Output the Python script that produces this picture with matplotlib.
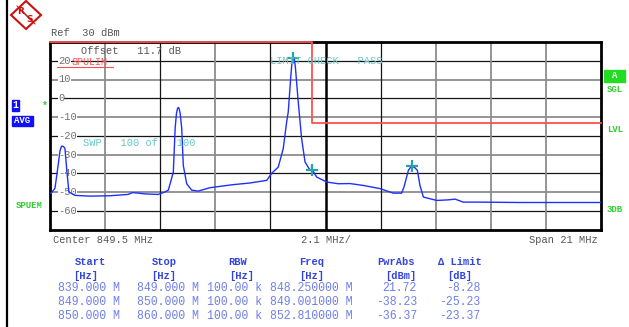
import matplotlib
matplotlib.use("Agg")
import matplotlib.pyplot as plt
from matplotlib.patches import Polygon, Rectangle
from matplotlib.lines import Line2D

W, H = 629, 327

# ---- data ----
freq_mhz = [839.00, 839.04, 839.19, 839.32, 839.38, 839.44, 839.50, 839.57, 839.64, 839.72, 839.95,
            840.52, 841.29, 841.97, 842.16, 842.62, 843.12, 843.38, 843.51, 843.61, 843.70,
            843.77, 843.82, 843.86, 843.89, 843.92, 843.96, 844.02, 844.08, 844.21, 844.40, 844.65, 845.10,
            845.97, 846.62, 847.26, 847.45, 847.70, 847.89, 848.02, 848.08, 848.18, 848.22, 848.27,
            848.31, 848.35, 848.46, 848.59, 848.72, 848.91, 849.00, 849.16, 849.55, 849.99, 850.43,
            850.94, 851.58, 852.08, 852.40, 852.49, 852.66, 852.76, 852.82, 852.90, 853.00, 853.10, 853.23,
            853.74, 854.17, 854.44, 854.75, 855.39, 856.91, 858.44, 860.00]
level_dbm = [-50.7, -50.7, -48.0, -34.7, -28.0, -25.6, -25.6, -26.7, -38.4, -50.0, -51.8,
             -52.2, -52.0, -51.3, -50.3, -51.0, -51.3, -50.0, -49.0, -44.0, -39.3,
             -16.0, -8.0, -5.5, -4.9, -5.5, -8.0, -16.0, -35.8, -45.6, -49.0, -49.5, -47.7,
             -46.1, -45.2, -43.8, -40.0, -36.7, -26.8, -12.6, -7.3, 12.0, 19.0, 21.5,
             21.0, 17.0, -1.8, -21.5, -34.0, -38.4, -38.2, -42.0, -44.7, -45.6, -45.5,
             -46.5, -48.2, -50.6, -50.6, -47.4, -38.4, -36.5, -36.4, -37.0, -38.4, -46.5, -52.7,
             -54.5, -54.2, -53.8, -55.4, -55.4, -55.6, -55.6, -55.6]

marker_freq = [848.25, 849.001, 852.81]
marker_level = [21.72, -38.23, -36.37]

limit_freq = [839, 849, 849, 860]
limit_level = [30, 30, -13, -13]

ytick_values = [20, 10, 0, -10, -20, -30, -40, -50, -60]

start_col = ["839.000 M", "849.000 M", "850.000 M"]
stop_col = ["849.000 M", "850.000 M", "860.000 M"]
rbw_col = ["100.00 k", "100.00 k", "100.00 k"]
freq_col = ["848.250000 M", "849.001000 M", "852.810000 M"]
pwr_col = ["21.72", "-38.23", "-36.37"]
dlim_col = ["-8.28", "-25.23", "-23.37"]

# ---- figure ----
fig = plt.figure(figsize=(W / 100, H / 100), dpi=100)
fig.patch.set_facecolor("white")
MONO = "Liberation Mono"


def T(x, y, s, **kw):
    kw.setdefault("family", MONO)
    kw.setdefault("fontsize", 7.5)
    return fig.text(x / W, 1 - y / H, s, **kw)


ax = fig.add_axes([50 / W, 1 - 229.5 / H, 551 / W, 187.5 / H])
ax.set_xlim(839, 860)
ax.set_ylim(-70, 30)
ax.set_xticks([])
ax.set_yticks([])
for sp in ax.spines.values():
    sp.set_linewidth(2.0)
    sp.set_color("black")

# grid lines
hstyle = {20: "k", 10: "g", 0: "k", -10: "g", -20: "k", -30: "g", -40: "k", -50: "g", -60: "k"}
for v in ytick_values:
    if hstyle[v] == "k":
        ax.axhline(v, color="#151515", lw=0.9, zorder=1)
    else:
        ax.axhline(v, color="#8c8c8c", lw=1.3, zorder=1)
vstyle = ["g", "k", "g", "k", "K", "k", "g", "g", "g"]
for i, s in enumerate(vstyle):
    xv = 839 + 2.1 * (i + 1)
    if s == "g":
        ax.axvline(xv, color="#8c8c8c", lw=1.3, zorder=1)
    elif s == "K":
        ax.axvline(xv, color="#000000", lw=1.8, zorder=1)
    else:
        ax.axvline(xv, color="#151515", lw=0.9, zorder=1)

# y labels inside plot
ytr = ax.get_yaxis_transform()
for v in ytick_values:
    ax.text(0.0145, v, f"{v}", transform=ytr, ha="left", va="center",
            family=MONO, fontsize=7.5, color="#707070", zorder=3,
            bbox=dict(facecolor="white", edgecolor="none", pad=0.1))

# limit line
ax.plot(limit_freq, limit_level, color="#ff5050", lw=1.3, zorder=4, clip_on=False)

# trace
ax.plot(freq_mhz, level_dbm, color="#1f2fff", lw=1.0, zorder=5)

# markers
ax.plot(marker_freq, marker_level, linestyle="none", marker="+", ms=9, mew=1.6,
        color="#2aa0a8", zorder=6)

# in-plot texts
T(81, 51, "Offset   11.7 dB", color="#555555", va="center")
T(72, 62, "SPULIM", color="#ff5050", va="center", fontsize=7.2)
fig.add_artist(Line2D([57 / W, 113 / W], [1 - 67 / H, 1 - 67 / H], color="#ff5050", lw=0.8))
T(270, 61, "LIMIT CHECK   PASS", color="#66c8c8", va="center")
T(83, 143, "SWP   100 of   100", color="#66c8c8", va="center")

# top texts
T(51, 33, "Ref  30 dBm", color="#555555", va="center")

# bottom axis texts
T(53, 240, "Center 849.5 MHz", color="#555555", va="center")
T(301, 240, "2.1 MHz/", color="#555555", va="center")
T(598, 240, "Span 21 MHz", color="#555555", va="center", ha="right")

# left side panel
fig.add_artist(Line2D([7 / W, 7 / W], [0, 1], color="black", lw=1.6))
fig.add_artist(Rectangle((12 / W, 1 - 111 / H), 7 / W, 11 / H, color="#1010ff"))
T(15.5, 105.5, "1", color="white", ha="center", va="center", fontsize=7, weight="bold")
fig.add_artist(Rectangle((12 / W, 1 - 126 / H), 21 / W, 10 / H, color="#1010ff"))
T(22.5, 121, "AVG", color="white", ha="center", va="center", fontsize=6.5, weight="bold")
T(44.5, 106, "*", color="#33cc33", ha="center", va="center", fontsize=7, weight="bold")
T(29, 206, "SPUEM", color="#33cc33", ha="center", va="center", fontsize=6.5, weight="bold")

# right side panel
fig.add_artist(Rectangle((604 / W, 1 - 82 / H), 21 / W, 12 / H, color="#22dd22"))
T(614.5, 76, "A", color="white", ha="center", va="center", fontsize=6.5, weight="bold")
T(615, 90, "SGL", color="#33cc33", ha="center", va="center", fontsize=6.5, weight="bold")
T(615, 129, "LVL", color="#33cc33", ha="center", va="center", fontsize=6.5, weight="bold")
T(615, 209, "3DB", color="#33cc33", ha="center", va="center", fontsize=6.5, weight="bold")

# R&S logo
cx, cy = 26, 15
pts = [((cx) / W, 1 - (cy - 14) / H), ((cx + 15) / W, 1 - cy / H),
       ((cx) / W, 1 - (cy + 14) / H), ((cx - 15) / W, 1 - cy / H)]
fig.add_artist(Polygon(pts, closed=True, facecolor="white", edgecolor="#cc1111", lw=1.5))
for d in (-2, 0, 2):
    fig.add_artist(Line2D([(cx - 7 + d) / W, (cx + 7 + d) / W],
                          [1 - (cy - 7 + d) / H, 1 - (cy + 7 + d) / H],
                          color="#cc1111", lw=0.7))
T(cx - 5, cy - 4, "R", color="#cc1111", ha="center", va="center", fontsize=6.5,
  weight="bold", family="DejaVu Sans")
T(cx + 4, cy + 5, "S", color="#cc1111", ha="center", va="center", fontsize=6.5,
  weight="bold", family="DejaVu Sans")

# table
HDR = "#3344dd"
ROW = "#7080e8"
headers = [(90, "Start"), (164, "Stop"), (238, "RBW"), (312, "Freq"), (396, "PwrAbs"), (460, "\u0394 Limit")]
units = [(86, "[Hz]"), (164, "[Hz]"), (242, "[Hz]"), (312, "[Hz]"), (401, "[dBm]"), (460, "[dB]")]
for x, s in headers:
    T(x, 262, s, color=HDR, ha="center", va="center", weight="bold", fontsize=7.5)
for x, s in units:
    T(x, 276, s, color=HDR, ha="center", va="center", weight="bold", fontsize=7.5)
row_y = [288, 302, 316]
for i, y in enumerate(row_y):
    T(58, y, start_col[i], color=ROW, va="center", fontsize=8.3)
    T(137, y, stop_col[i], color=ROW, va="center", fontsize=8.3)
    T(207, y, rbw_col[i], color=ROW, va="center", fontsize=8.3)
    T(270, y, freq_col[i], color=ROW, va="center", fontsize=8.3)
    T(417, y, pwr_col[i], color=ROW, va="center", ha="right", fontsize=8.3)
    T(480, y, dlim_col[i], color=ROW, va="center", ha="right", fontsize=8.3)

fig.savefig("out.png", dpi=100)
